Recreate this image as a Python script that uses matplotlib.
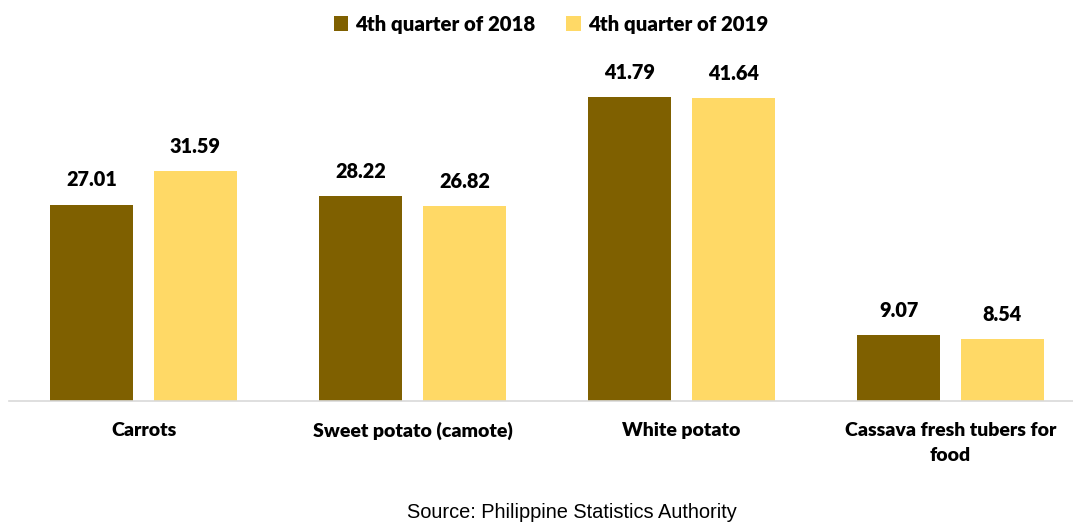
import numpy as np
import matplotlib
import matplotlib.pyplot as plt

matplotlib.use('agg')

categories = ['Carrots', 'Sweet potato (camote)', 'White potato',
              'Cassava fresh tubers for\nfood']
series_names = ['4th quarter of 2018', '4th quarter of 2019']
q4_2018 = [27.01, 28.22, 41.79, 9.07]
q4_2019 = [31.59, 26.82, 41.64, 8.54]

DARK = '#7F6000'
LIGHT = '#FFD966'
WEIGHT = 'heavy'

plt.rcParams['font.family'] = ['Lato', 'DejaVu Sans']

fig = plt.figure(figsize=(10.73, 5.23), dpi=100)
W, H = 1073, 523
ax = fig.add_axes([9 / W, (H - 401) / H, 1076 / W, 341 / H])

x = np.arange(len(categories))
bw = 0.309
off = 0.193
b1 = ax.bar(x - off, q4_2018, bw, color=DARK, label=series_names[0])
b2 = ax.bar(x + off, q4_2019, bw, color=LIGHT, label=series_names[1])

for bars in (b1, b2):
    for rect in bars:
        h = rect.get_height()
        ax.annotate(f'{h:.2f}', (rect.get_x() + rect.get_width() / 2, h),
                    xytext=(0, 11), textcoords='offset points',
                    ha='center', va='bottom', fontsize=14.3,
                    fontweight=WEIGHT, color='black')

ax.set_xlim(-0.5, 3.5)
ax.set_ylim(0, 46.9)
ax.set_yticks([])
ax.set_xticks(x)
ax.set_xticklabels(categories, fontsize=14, fontweight=WEIGHT,
                   linespacing=1.55)
ax.tick_params(axis='x', length=0, pad=15)
for s in ['top', 'right', 'left']:
    ax.spines[s].set_visible(False)
ax.spines['bottom'].set_color('#D9D9D9')
ax.spines['bottom'].set_linewidth(1.2)

fig.legend(handles=[b1, b2], loc='center', bbox_to_anchor=(551 / W, 1 - 24 / H),
           ncol=2, frameon=False,
           prop={'weight': WEIGHT, 'size': 14.7},
           handlelength=0.7, handleheight=0.7, handletextpad=0.35,
           columnspacing=1.5)

fig.text(572 / W, 1 - 513 / H, 'Source: Philippine Statistics Authority',
         ha='center', va='center', fontsize=14.4, family='Liberation Sans')

fig.savefig('out.png', dpi=100)
